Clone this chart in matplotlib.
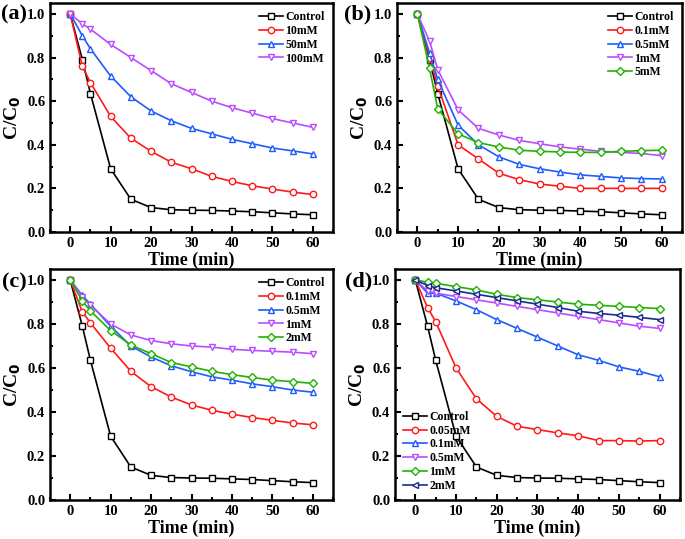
import numpy as np
import matplotlib.pyplot as plt
from matplotlib.ticker import MultipleLocator

time = [0, 3, 5, 10, 15, 20, 25, 30, 35, 40, 45, 50, 55, 60]

control = [1.0, 0.79, 0.635, 0.29, 0.15, 0.112, 0.102, 0.100, 0.099, 0.096, 0.093, 0.088, 0.083, 0.079]

# panel (a)
a_10mM = [1.0, 0.76, 0.685, 0.53, 0.43, 0.37, 0.32, 0.29, 0.255, 0.232, 0.212, 0.197, 0.183, 0.172]
a_50mM = [1.0, 0.90, 0.84, 0.715, 0.62, 0.555, 0.51, 0.475, 0.45, 0.425, 0.405, 0.385, 0.372, 0.358]
a_100mM = [1.0, 0.955, 0.93, 0.86, 0.80, 0.74, 0.68, 0.64, 0.60, 0.57, 0.545, 0.52, 0.50, 0.48]

# panel (b)
b_01mM = [1.0, 0.80, 0.67, 0.40, 0.335, 0.27, 0.24, 0.22, 0.21, 0.20, 0.20, 0.20, 0.20, 0.20]
b_05mM = [1.0, 0.82, 0.70, 0.49, 0.40, 0.345, 0.31, 0.29, 0.275, 0.262, 0.255, 0.248, 0.245, 0.243]
b_1mM = [1.0, 0.875, 0.745, 0.56, 0.475, 0.445, 0.42, 0.405, 0.39, 0.38, 0.37, 0.365, 0.36, 0.35]
b_5mM = [1.0, 0.75, 0.565, 0.45, 0.41, 0.39, 0.375, 0.37, 0.367, 0.365, 0.365, 0.37, 0.373, 0.375]

# panel (c)
c_01mM = [1.0, 0.855, 0.805, 0.69, 0.585, 0.515, 0.468, 0.432, 0.408, 0.39, 0.375, 0.362, 0.35, 0.342]
c_05mM = [1.0, 0.93, 0.89, 0.79, 0.70, 0.65, 0.61, 0.583, 0.56, 0.545, 0.528, 0.515, 0.50, 0.49]
c_1mM = [1.0, 0.925, 0.885, 0.80, 0.75, 0.725, 0.71, 0.70, 0.695, 0.685, 0.68, 0.676, 0.672, 0.665]
c_2mM = [1.0, 0.905, 0.86, 0.77, 0.705, 0.665, 0.625, 0.605, 0.585, 0.57, 0.557, 0.545, 0.538, 0.53]

# panel (d)
d_005mM = [1.0, 0.875, 0.81, 0.60, 0.46, 0.38, 0.335, 0.32, 0.305, 0.292, 0.27, 0.27, 0.268, 0.27]
d_01mM = [1.0, 0.94, 0.94, 0.905, 0.865, 0.82, 0.78, 0.74, 0.70, 0.66, 0.635, 0.605, 0.585, 0.56]
d_05mM = [1.0, 0.95, 0.94, 0.925, 0.91, 0.895, 0.88, 0.865, 0.85, 0.835, 0.82, 0.805, 0.79, 0.78]
d_1mM = [1.0, 0.99, 0.985, 0.97, 0.955, 0.935, 0.92, 0.91, 0.90, 0.89, 0.885, 0.88, 0.875, 0.87]
d_2mM = [1.0, 0.975, 0.965, 0.95, 0.935, 0.92, 0.905, 0.89, 0.875, 0.858, 0.848, 0.84, 0.83, 0.82]

BLACK = 'black'
RED = '#ff1a1a'
BLUE = '#1f5cff'
VIOLET = '#b84dff'
GREEN = '#1fb300'
NAVY = '#1a2a8c'

plt.rcParams['font.family'] = ['Liberation Serif', 'DejaVu Serif']
plt.rcParams['font.weight'] = 'bold'

fig = plt.figure(figsize=(6.85, 5.39), dpi=100)
W, H = 685.0, 539.0

def make_ax(left, top, right, bottom):
    return fig.add_axes([left / W, 1 - bottom / H, (right - left) / W, (bottom - top) / H])

panels = [
    ('(a)', (14, 14), make_ax(50, 3, 333, 232),
     [(control, 'Control', BLACK, 's'), (a_10mM, '10mM', RED, 'o'),
      (a_50mM, '50mM', BLUE, '^'), (a_100mM, '100mM', VIOLET, 'v')], 'upper right'),
    ('(b)', (358, 14), make_ax(397, 3, 682, 232),
     [(control, 'Control', BLACK, 's'), (b_01mM, '0.1mM', RED, 'o'),
      (b_05mM, '0.5mM', BLUE, '^'), (b_1mM, '1mM', VIOLET, 'v'),
      (b_5mM, '5mM', GREEN, 'D')], 'upper right'),
    ('(c)', (14, 282), make_ax(50, 269, 333, 500),
     [(control, 'Control', BLACK, 's'), (c_01mM, '0.1mM', RED, 'o'),
      (c_05mM, '0.5mM', BLUE, '^'), (c_1mM, '1mM', VIOLET, 'v'),
      (c_2mM, '2mM', GREEN, 'D')], 'upper right'),
    ('(d)', (359, 281), make_ax(395, 269, 680, 500),
     [(control, 'Control', BLACK, 's'), (d_005mM, '0.05mM', RED, 'o'),
      (d_01mM, '0.1mM', BLUE, '^'), (d_05mM, '0.5mM', VIOLET, 'v'),
      (d_1mM, '1mM', GREEN, 'D'), (d_2mM, '2mM', NAVY, '<')], 'lower left'),
]

marker_size = {'s': 4.4, 'o': 4.6, '^': 5.0, 'v': 5.0, '<': 5.0, 'D': 4.0}

for tag, tag_pos, ax, series, loc in panels:
    for vals, name, col, mk in series:
        ax.plot(time, vals, color=col, marker=mk, markersize=marker_size[mk],
                markerfacecolor='white', markeredgecolor=col, markeredgewidth=1.0,
                linewidth=1.2, label=name)
    ax.set_xlim(-5, 65)
    ax.set_ylim(0, 1.05)
    ax.xaxis.set_minor_locator(MultipleLocator(5))
    ax.yaxis.set_major_locator(MultipleLocator(0.2))
    ax.yaxis.set_minor_locator(MultipleLocator(0.1))
    ax.set_xticks([0, 10, 20, 30, 40, 50, 60])
    ax.tick_params(which='both', direction='in', labelsize=10.5, width=1.5)
    ax.tick_params(which='major', length=4)
    ax.tick_params(which='minor', length=2.5)
    for lbl in ax.get_xticklabels() + ax.get_yticklabels():
        lbl.set_fontweight('bold')
    for sp in ax.spines.values():
        sp.set_linewidth(1.8)
    ax.yaxis.set_major_formatter(plt.FuncFormatter(lambda v, p: f'{v:.1f}'))
    ax.set_xlabel('Time (min)', fontsize=13, fontweight='bold', labelpad=1)
    ax.set_ylabel('C/C$_\\mathbf{0}$', fontsize=14, fontweight='bold', labelpad=3)
    leg = ax.legend(loc=loc, frameon=False, fontsize=8.5, handlelength=2.0,
                    handletextpad=0.2, labelspacing=0.15, borderaxespad=0.3)
    for t in leg.get_texts():
        t.set_fontweight('bold')
    fig.text(tag_pos[0] / W, 1 - tag_pos[1] / H, tag, fontsize=16, fontweight='bold',
             ha='center', va='center')

fig.savefig('out.png', dpi=100)
